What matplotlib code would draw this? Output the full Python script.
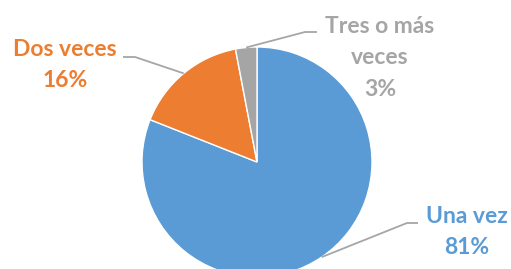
import numpy as np
import matplotlib
matplotlib.use("Agg")
import matplotlib.pyplot as plt

categories = ["Una vez", "Dos veces", "Tres o más\nveces"]
values = [81, 16, 3]
colors = ["#5B9BD5", "#ED7D31", "#A5A5A5"]

W, H = 511, 269
fig = plt.figure(figsize=(W / 100, H / 100), dpi=100)
ax = fig.add_axes([0, 0, 1, 1])
ax.set_xlim(0, W)
ax.set_ylim(0, H)
ax.set_aspect("equal", adjustable="box")
ax.axis("off")

cx, cy, r = 257, H - 162, 115
wedges, _ = ax.pie(values, colors=colors, startangle=90, counterclock=False,
                   center=(cx, cy), radius=r, frame=True,
                   wedgeprops=dict(edgecolor="white", linewidth=1))
ax.set_xlim(0, W)
ax.set_ylim(0, H)
ax.axis("off")

# label layout: (text x, text y (px from top), elbow x, elbow y, line end x, line end y)
layout = [
    (467, 232, 418, 223, 407, 223),
    (65, 65, 123, 57, 135, 57),
    (380, 58, 317, 32, 305, 32),
]
for w, cat, val, col, (tx, ty, lx, ly, ex, ey) in zip(wedges, categories, values, colors, layout):
    ang = np.deg2rad((w.theta1 + w.theta2) / 2)
    px, py = cx + r * np.cos(ang), cy + r * np.sin(ang)
    ax.plot([lx, ex, px], [H - ly, H - ey, py], color="#A6A6A6", lw=1.3,
            solid_capstyle="butt", zorder=3)
    ax.text(tx, H - ty, f"{cat}\n{val}%", ha="center", va="center", color=col,
            fontsize=16.5, fontweight="bold", family=["Lato", "DejaVu Sans"],
            linespacing=1.6)

fig.savefig("out.png", dpi=100)
